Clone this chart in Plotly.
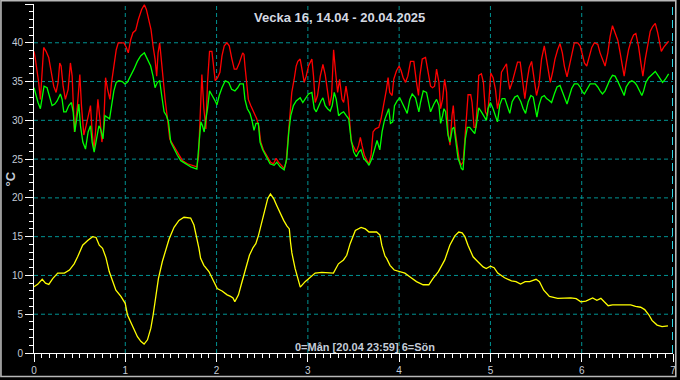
import plotly.graph_objects as go

# ---------------- data ----------------
RED_X = [0.0, 0.015, 0.051, 0.07, 0.106, 0.132, 0.161, 0.19, 0.216, 0.242, 0.264, 0.282, 0.297, 0.319, 0.344, 0.374,
         0.399, 0.418, 0.443, 0.473, 0.502, 0.52, 0.546, 0.571, 0.593, 0.619, 0.637, 0.656, 0.674, 0.7, 0.722, 0.744,
         0.762, 0.784, 0.806, 0.832, 0.85, 0.875, 0.901, 0.923, 0.985, 1.011, 1.033, 1.059, 1.084, 1.114, 1.143, 1.179,
         1.209, 1.231, 1.253, 1.282, 1.304, 1.326, 1.344, 1.359, 1.377, 1.396, 1.414, 1.436, 1.462, 1.487, 1.516, 1.553,
         1.59, 1.626, 1.681, 1.736, 1.784, 1.802, 1.817, 1.839, 1.861, 1.883, 1.901, 1.923, 1.949, 1.967, 1.985, 2.011,
         2.037, 2.059, 2.084, 2.114, 2.139, 2.168, 2.194, 2.22, 2.249, 2.286, 2.30, 2.311, 2.33, 2.348, 2.374, 2.403,
         2.44, 2.465, 2.484, 2.513, 2.549, 2.593, 2.623, 2.652, 2.678, 2.714, 2.74, 2.762, 2.78, 2.799, 2.824, 2.85,
         2.872, 2.89, 2.916, 2.938, 2.96, 2.982, 3.007, 3.044, 3.062, 3.081, 3.106, 3.136, 3.165, 3.19, 3.216, 3.238,
         3.26, 3.282, 3.304, 3.326, 3.348, 3.374, 3.392, 3.418, 3.44, 3.458, 3.476, 3.502, 3.531, 3.557, 3.575, 3.593,
         3.619, 3.648, 3.67, 3.692, 3.714, 3.74, 3.777, 3.802, 3.832, 3.861, 3.879, 3.897, 3.923, 3.941, 3.971, 4.0,
         4.022, 4.044, 4.07, 4.095, 4.125, 4.161, 4.19, 4.212, 4.227, 4.253, 4.289, 4.315, 4.344, 4.366, 4.388, 4.41,
         4.436, 4.454, 4.476, 4.498, 4.52, 4.535, 4.557, 4.579, 4.593, 4.615, 4.637, 4.656, 4.674, 4.7, 4.718, 4.736,
         4.755, 4.784, 4.799, 4.821, 4.839, 4.857, 4.872, 4.901, 4.923, 4.945, 4.967, 4.985, 5.004, 5.029, 5.055, 5.077,
         5.099, 5.121, 5.15, 5.176, 5.194, 5.212, 5.238, 5.267, 5.297, 5.326, 5.348, 5.377, 5.399, 5.425, 5.451, 5.48,
         5.505, 5.531, 5.56, 5.59, 5.612, 5.634, 5.656, 5.681, 5.707, 5.736, 5.762, 5.788, 5.81, 5.839, 5.864, 5.89,
         5.919, 5.956, 5.982, 6.007, 6.029, 6.055, 6.081, 6.11, 6.139, 6.176, 6.201, 6.227, 6.256, 6.286, 6.311, 6.337,
         6.366, 6.396, 6.421, 6.447, 6.465, 6.487, 6.513, 6.542, 6.568, 6.593, 6.623, 6.648, 6.67, 6.696, 6.725, 6.751,
         6.777, 6.806, 6.832, 6.853, 6.872, 6.897, 6.927, 6.952]
RED_Y = [38.9, 37.9, 34.9, 32.7, 39.4, 38.9, 38.1, 36.2, 34.4, 33.6, 34.9, 37.4, 37.0, 34.4, 32.7, 34.0,
         37.4, 35.7, 28.5, 31.5, 35.9, 31.9, 28.1, 29.3, 30.6, 31.9, 28.5, 26.2, 28.5, 32.7, 30.2, 27.2,
         28.9, 35.5, 34.0, 32.7, 34.9, 37.0, 39.1, 40.0, 40.0, 39.4, 38.7, 40.4, 41.3, 41.6, 43.0, 44.3,
         44.9, 44.3, 43.0, 41.7, 39.6, 37.9, 35.7, 38.7, 40.0, 37.4, 34.9, 32.7, 30.2, 27.6, 27.0, 26.3,
         25.5, 24.8, 24.4, 24.2, 24.0, 25.3, 30.6, 35.9, 31.5, 28.9, 34.9, 38.9, 38.9, 37.0, 35.1, 35.5,
         36.2, 38.3, 39.6, 40.0, 39.6, 37.9, 36.6, 36.6, 37.4, 38.7, 38.5, 37.0, 34.4, 32.7, 31.9, 31.2,
         30.2, 29.1, 27.2, 26.2, 25.5, 24.6, 24.4, 25.1, 24.6, 24.2, 23.8, 24.6, 27.2, 30.6, 33.6, 35.3,
         37.0, 37.6, 37.9, 36.4, 34.9, 35.7, 37.0, 37.9, 35.7, 32.3, 33.2, 35.7, 37.2, 35.9, 34.0, 31.9,
         33.2, 39.1, 36.2, 33.6, 35.3, 32.7, 32.3, 34.4, 32.7, 30.2, 27.2, 26.6, 25.9, 26.8, 27.8, 26.8,
         25.5, 24.8, 24.4, 25.5, 28.5, 28.9, 29.1, 30.2, 31.9, 34.0, 35.5, 33.6, 33.2, 35.3, 36.4, 37.0,
         36.4, 35.5, 34.9, 35.7, 37.6, 37.6, 34.9, 33.2, 35.7, 37.9, 38.1, 36.2, 34.4, 34.2, 34.4, 36.6,
         34.9, 31.5, 32.7, 35.3, 33.6, 28.5, 26.8, 30.6, 31.9, 28.5, 26.3, 25.1, 24.2, 24.6, 27.2, 30.2,
         33.3, 33.3, 32.3, 29.1, 29.1, 32.3, 35.8, 36.0, 34.9, 31.1, 30.6, 32.8, 36.1, 35.5, 34.0, 31.5,
         32.8, 36.2, 36.8, 37.3, 35.3, 34.0, 34.9, 36.2, 37.5, 37.5, 35.3, 32.8, 34.9, 36.8, 37.6, 35.3,
         33.2, 34.5, 37.9, 39.6, 37.9, 36.2, 34.9, 36.2, 37.9, 39.1, 39.9, 38.7, 37.0, 35.6, 37.0, 38.7,
         40.0, 40.0, 39.6, 38.5, 37.4, 37.0, 38.1, 39.4, 40.0, 39.8, 38.7, 37.9, 37.0, 38.7, 40.8, 42.2,
         41.3, 40.3, 38.7, 36.6, 35.7, 37.4, 39.1, 40.3, 41.0, 41.2, 39.5, 37.4, 35.7, 37.9, 40.0, 41.5,
         42.1, 42.5, 41.3, 40.0, 38.9, 39.4, 39.8, 40.2]

GREEN_X = [0.0, 0.015, 0.044, 0.07, 0.088, 0.11, 0.143, 0.168, 0.198, 0.227, 0.253, 0.289, 0.308, 0.326, 0.352, 0.381,
           0.41, 0.429, 0.447, 0.473, 0.491, 0.509, 0.535, 0.564, 0.593, 0.619, 0.637, 0.659, 0.685, 0.711, 0.729, 0.755,
           0.777, 0.802, 0.828, 0.85, 0.875, 0.901, 0.93, 0.967, 0.996, 1.022, 1.059, 1.095, 1.132, 1.168, 1.209, 1.242,
           1.278, 1.304, 1.326, 1.352, 1.377, 1.399, 1.425, 1.451, 1.473, 1.498, 1.535, 1.571, 1.608, 1.663, 1.718, 1.784,
           1.81, 1.828, 1.846, 1.864, 1.883, 1.901, 1.923, 1.956, 1.985, 2.004, 2.029, 2.059, 2.095, 2.132, 2.165, 2.201,
           2.231, 2.256, 2.293, 2.311, 2.337, 2.366, 2.388, 2.41, 2.432, 2.458, 2.476, 2.505, 2.542, 2.586, 2.63, 2.659,
           2.696, 2.74, 2.769, 2.791, 2.813, 2.842, 2.872, 2.89, 2.916, 2.945, 2.971, 3.007, 3.044, 3.07, 3.092, 3.117,
           3.143, 3.165, 3.19, 3.216, 3.245, 3.267, 3.289, 3.311, 3.337, 3.363, 3.392, 3.421, 3.447, 3.473, 3.502, 3.531,
           3.557, 3.582, 3.612, 3.648, 3.67, 3.703, 3.729, 3.758, 3.788, 3.813, 3.839, 3.868, 3.886, 3.905, 3.93, 3.949,
           3.978, 4.007, 4.033, 4.059, 4.088, 4.117, 4.143, 4.179, 4.198, 4.216, 4.234, 4.264, 4.3, 4.326, 4.344, 4.381,
           4.41, 4.436, 4.454, 4.476, 4.491, 4.509, 4.535, 4.557, 4.582, 4.601, 4.623, 4.645, 4.667, 4.681, 4.7, 4.711,
           4.725, 4.747, 4.773, 4.799, 4.828, 4.846, 4.872, 4.901, 4.93, 4.956, 4.974, 5.0, 5.029, 5.055, 5.077, 5.103,
           5.128, 5.158, 5.187, 5.212, 5.238, 5.267, 5.297, 5.333, 5.359, 5.385, 5.414, 5.443, 5.469, 5.487, 5.509, 5.531,
           5.56, 5.59, 5.615, 5.641, 5.67, 5.7, 5.729, 5.762, 5.788, 5.81, 5.839, 5.864, 5.89, 5.919, 5.956, 5.982,
           6.007, 6.029, 6.055, 6.092, 6.147, 6.176, 6.201, 6.227, 6.256, 6.286, 6.311, 6.337, 6.366, 6.396, 6.421, 6.447,
           6.465, 6.487, 6.52, 6.549, 6.579, 6.604, 6.63, 6.659, 6.678, 6.703, 6.733, 6.777, 6.806, 6.835, 6.864, 6.886,
           6.916, 6.952]
GREEN_Y = [34.2, 33.4, 32.3, 31.5, 32.7, 34.4, 34.2, 33.2, 31.9, 32.1, 32.5, 33.4, 32.7, 31.1, 31.1, 31.9,
           32.3, 31.1, 28.5, 30.6, 32.1, 29.3, 27.2, 26.3, 28.5, 29.3, 27.2, 25.9, 27.6, 29.3, 28.9, 27.6,
           30.6, 30.4, 30.2, 31.9, 33.8, 34.9, 35.1, 35.0, 34.7, 34.9, 35.7, 36.6, 37.6, 38.3, 38.7, 37.9,
           37.0, 35.7, 34.2, 34.9, 35.1, 33.2, 31.1, 30.6, 29.8, 27.2, 26.3, 25.5, 24.8, 24.4, 24.0, 23.7,
           26.8, 29.8, 29.3, 28.5, 30.2, 31.5, 33.8, 33.2, 32.5, 32.0, 33.2, 34.2, 35.1, 34.9, 34.0, 33.8,
           34.2, 34.7, 34.7, 32.7, 31.5, 30.9, 30.0, 28.7, 29.6, 29.6, 27.2, 26.2, 25.3, 24.4, 24.2, 24.6,
           24.0, 23.6, 25.1, 28.5, 30.6, 31.9, 32.5, 32.7, 32.9, 32.3, 32.7, 33.4, 33.6, 31.5, 31.1, 31.9,
           32.5, 32.9, 31.9, 31.5, 31.2, 31.9, 33.6, 32.7, 30.6, 30.9, 31.1, 30.6, 30.2, 27.6, 25.9, 25.3,
           25.9, 26.2, 25.1, 24.6, 24.2, 25.1, 26.3, 27.4, 26.2, 28.5, 30.0, 31.1, 31.5, 29.6, 29.8, 31.9,
           32.5, 32.9, 32.3, 31.5, 30.9, 32.7, 33.4, 32.9, 31.9, 31.1, 32.3, 33.8, 33.6, 32.3, 31.1, 32.1,
           32.7, 31.9, 29.6, 30.6, 31.5, 31.1, 28.1, 27.2, 28.9, 29.1, 26.8, 25.1, 24.4, 23.8, 23.6, 25.1,
           27.6, 29.1, 29.1, 28.7, 28.3, 29.4, 31.6, 31.1, 30.6, 30.0, 31.5, 32.3, 31.5, 30.6, 29.8, 32.0,
           32.8, 32.8, 31.8, 30.9, 32.4, 33.0, 33.2, 32.4, 31.5, 30.9, 32.4, 33.2, 33.0, 31.9, 30.4, 31.9,
           33.0, 33.2, 32.8, 32.6, 32.3, 33.4, 34.3, 34.5, 33.8, 33.0, 32.1, 33.2, 34.1, 34.7, 34.7, 34.3,
           33.7, 33.4, 34.0, 34.7, 34.7, 34.3, 33.8, 33.4, 33.8, 34.7, 35.3, 35.8, 35.7, 35.0, 34.3, 33.6,
           33.2, 34.3, 34.9, 35.1, 34.9, 34.5, 33.8, 33.2, 33.8, 34.9, 35.5, 36.0, 36.3, 35.8, 35.3, 34.9,
           35.3, 36.0]

YELLOW_X = [0.0, 0.04, 0.09, 0.126, 0.162, 0.205, 0.26, 0.333, 0.388, 0.44, 0.478, 0.533, 0.588, 0.642, 0.68, 0.715,
            0.751, 0.788, 0.824, 0.86, 0.897, 0.952, 0.999, 1.024, 1.08, 1.133, 1.17, 1.206, 1.243, 1.28, 1.305, 1.334,
            1.363, 1.406, 1.443, 1.48, 1.534, 1.588, 1.643, 1.716, 1.752, 1.789, 1.807, 1.825, 1.861, 1.916, 1.97, 2.007,
            2.06, 2.116, 2.153, 2.18, 2.2, 2.24, 2.27, 2.316, 2.36, 2.40, 2.43, 2.46, 2.52, 2.56, 2.59, 2.626,
            2.66, 2.7, 2.735, 2.77, 2.797, 2.81, 2.825, 2.86, 2.917, 2.97, 3.026, 3.08, 3.153, 3.226, 3.28, 3.335,
            3.39, 3.426, 3.463, 3.52, 3.583, 3.63, 3.67, 3.753, 3.79, 3.81, 3.845, 3.863, 3.9, 3.946, 4.01, 4.063,
            4.12, 4.19, 4.263, 4.325, 4.37, 4.43, 4.5, 4.555, 4.61, 4.653, 4.69, 4.72, 4.754, 4.77, 4.81, 4.86,
            4.92, 4.954, 5.0, 5.04, 5.08, 5.155, 5.23, 5.28, 5.33, 5.38, 5.43, 5.5, 5.537, 5.584, 5.646, 5.737,
            5.83, 5.88, 5.94, 5.99, 6.045, 6.12, 6.166, 6.21, 6.247, 6.29, 6.337, 6.41, 6.465, 6.537, 6.59, 6.646,
            6.69, 6.737, 6.77, 6.826, 6.88, 6.945]
YELLOW_Y = [8.55, 8.85, 9.5, 9.0, 8.85, 9.6, 10.3, 10.3, 10.7, 11.5, 12.4, 13.9, 14.5, 15.0, 14.9, 13.9,
            13.5, 12.3, 10.5, 9.2, 8.1, 7.3, 6.4, 4.9, 3.4, 2.1, 1.5, 1.15, 1.7, 3.2, 4.9, 7.5,
            9.6, 11.8, 13.3, 14.7, 16.2, 17.1, 17.5, 17.4, 16.5, 14.7, 13.5, 12.2, 11.3, 10.5, 9.2, 8.3,
            8.0, 7.5, 7.3, 7.1, 6.6, 7.5, 8.8, 10.9, 12.6, 13.6, 14.1, 15.2, 18.2, 19.9, 20.5, 19.9,
            19.0, 17.9, 17.1, 16.4, 16.0, 14.3, 12.9, 10.9, 8.5, 9.2, 9.8, 10.3, 10.4, 10.3, 10.3, 11.5,
            12.0, 12.6, 14.1, 15.8, 16.2, 16.0, 15.6, 15.6, 15.2, 13.9, 12.5, 12.2, 11.3, 10.7, 10.5, 10.3,
            9.8, 9.2, 8.8, 8.8, 9.6, 10.5, 12.0, 13.9, 15.1, 15.6, 15.5, 15.0, 13.9, 13.5, 12.4, 11.8,
            11.1, 10.9, 11.2, 11.0, 10.3, 9.7, 9.3, 9.2, 8.9, 9.2, 9.2, 9.5, 9.2, 8.1, 7.3, 7.05,
            7.05, 7.1, 7.0, 6.6, 6.7, 7.1, 6.8, 7.05, 6.6, 6.1, 6.2, 6.2, 6.2, 6.2, 6.0, 5.9,
            5.6, 4.9, 4.2, 3.6, 3.4, 3.5]

X_TICKS = [0, 1, 2, 3, 4, 5, 6, 7]
X_TICK_LABELS = ["0", "1", "2", "3", "4", "5", "6", "7"]
Y_TICKS = [0, 5, 10, 15, 20, 25, 30, 35, 40, 45]
Y_TICK_LABELS = ["0", "5", "10", "15", "20", "25", "30", "35", "40", "45"]
GRID_X = [1, 2, 3, 4, 5, 6]
GRID_Y = [5, 10, 15, 20, 25, 30, 35, 40]
NOW_X = 7

TITLE = "Vecka 16, 14.04 - 20.04.2025"
X_LABEL = "0=Mån [20.04 23:59] 6=Sön"
Y_LABEL = "°C"

# ---------------- figure ----------------
FONT = "Liberation Sans, Arial, sans-serif"
LBL = "#c4ccd8"

fig = go.Figure()
fig.add_trace(go.Scatter(x=RED_X, y=RED_Y, mode="lines", line=dict(color="#ff0000", width=1.3), hoverinfo="skip"))
fig.add_trace(go.Scatter(x=GREEN_X, y=GREEN_Y, mode="lines", line=dict(color="#00ff00", width=1.3), hoverinfo="skip"))
fig.add_trace(go.Scatter(x=YELLOW_X, y=YELLOW_Y, mode="lines", line=dict(color="#ffff00", width=1.3), hoverinfo="skip"))

shapes = []
for gx in GRID_X:
    shapes.append(dict(type="line", xref="x", yref="paper", x0=gx, x1=gx, y0=0, y1=1, layer="below",
                       line=dict(color="#009292", width=1, dash="4px,3px")))
for gy in GRID_Y:
    shapes.append(dict(type="line", xref="paper", yref="y", x0=0, x1=1, y0=gy, y1=gy, layer="below",
                       line=dict(color="#009292", width=1, dash="4px,3px")))
shapes.append(dict(type="line", xref="x", yref="paper", x0=NOW_X, x1=NOW_X, y0=0, y1=1,
                   line=dict(color="#30d8e8", width=2, dash="8px,5px")))
# outer frame of the picture
shapes.append(dict(type="rect", xref="paper", yref="paper",
                   x0=-33.2 / 642, x1=644.8 / 642, y0=-23.6 / 351, y1=354.2 / 351,
                   line=dict(color="#b8b8b8", width=1.6)))

axis_common = dict(showline=True, linecolor="#ffffff", linewidth=1, ticks="outside", ticklen=8,
                   tickcolor="#ffffff", tickwidth=1, showgrid=False, zeroline=False,
                   tickfont=dict(family=FONT, size=10, color=LBL), fixedrange=True)

fig.update_layout(
    width=680, height=380,
    margin=dict(l=34, r=4, t=4, b=25),
    paper_bgcolor="#000000", plot_bgcolor="#000000",
    showlegend=False,
    xaxis=dict(range=[0, 7], tickmode="array", tickvals=X_TICKS, ticktext=X_TICK_LABELS,
               minor=dict(dtick=1 / 12, tick0=0, ticks="outside", ticklen=4, tickcolor="#ffffff", showgrid=False),
               **axis_common),
    yaxis=dict(range=[0, 45], tickmode="array", tickvals=Y_TICKS, ticktext=Y_TICK_LABELS,
               minor=dict(dtick=1, tick0=0, ticks="outside", ticklen=4, tickcolor="#ffffff", showgrid=False),
               **axis_common),
    shapes=shapes,
    annotations=[
        dict(text=TITLE, xref="paper", yref="paper", x=0.478, y=0.960, showarrow=False,
             xanchor="center", yanchor="middle",
             font=dict(family=FONT, size=13, color="#d4d8e0", weight="bold")),
        dict(text=X_LABEL, xref="paper", yref="paper", x=0.518, y=0.016, showarrow=False,
             xanchor="center", yanchor="middle",
             font=dict(family=FONT, size=11, color=LBL, weight="bold")),
        dict(text=Y_LABEL, xref="paper", yref="paper", x=-0.036, y=0.50, showarrow=False,
             xanchor="center", yanchor="middle", textangle=-90,
             font=dict(family=FONT, size=13, color=LBL, weight="bold")),
    ],
)

fig.write_html("out.html", config={"displayModeBar": False})
